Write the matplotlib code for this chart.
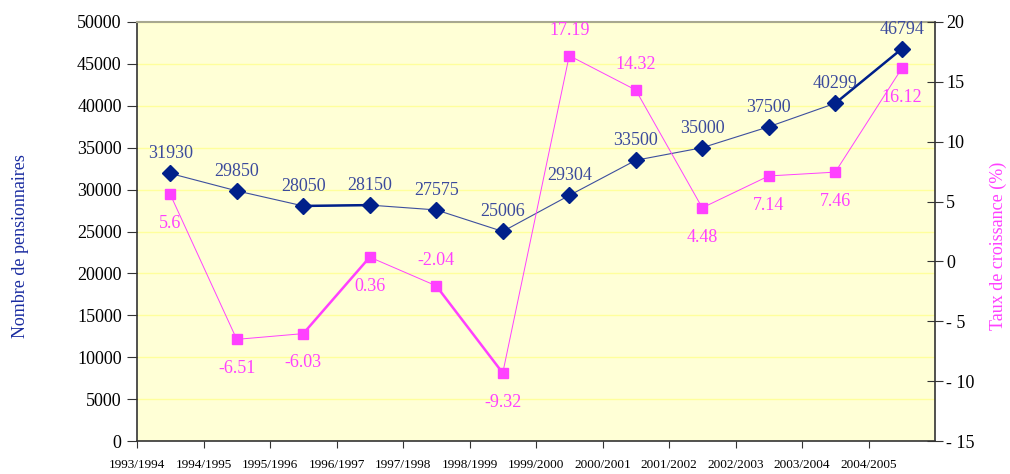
import numpy as np
import matplotlib
matplotlib.use("Agg")
import matplotlib.pyplot as plt

years = ["1993/1994", "1994/1995", "1995/1996", "1996/1997", "1997/1998", "1998/1999",
         "1999/2000", "2000/2001", "2001/2002", "2002/2003", "2003/2004", "2004/2005"]
pensionnaires = [31930, 29850, 28050, 28150, 27575, 25006,
                 29304, 33500, 35000, 37500, 40299, 46794]
croissance = [5.6, -6.51, -6.03, 0.36, -2.04, -9.32,
              17.19, 14.32, 4.48, 7.14, 7.46, 16.12]

# which pink labels sit above the marker (the rest go below)
pink_above = [4, 6, 7]
# segments that Excel drew heavier
blue_thick = [2, 10]
pink_thick = [2, 4]

blue = "#00208a"
blue_line = "#3d4f9e"
blue_txt = "#3b4a9c"
pink = "#ff40ff"

plt.rcParams['font.family'] = ['Liberation Serif', 'DejaVu Serif']

fig = plt.figure(figsize=(10.1, 4.74), dpi=100)
ax = fig.add_axes([137/1010, 33/474, (935-137)/1010, (441-22)/474])
ax.set_facecolor("#ffffd6")
x = np.arange(len(pensionnaires)) + 0.5

ax.set_xlim(0, 12)
ax.set_ylim(0, 50000)
ax.set_yticks(np.arange(0, 50001, 5000))
ax.yaxis.grid(True, color="#ffff9c", lw=1)
ax.set_axisbelow(True)
ax.set_xticks(np.arange(0, 12))
ax.set_xticklabels(years, fontsize=9.5)
ax.tick_params(axis='x', direction='out', length=5, pad=8, color="#333333")
ax.tick_params(axis='y', direction='out', length=7, labelsize=13, pad=4, color="#333333")
for s in ['left', 'bottom']:
    ax.spines[s].set_color("#333333")
    ax.spines[s].set_linewidth(1.2)
ax.spines['top'].set_color("#a8a890")
ax.spines['top'].set_linewidth(1.5)
ax.spines['right'].set_visible(False)

ax.plot(x, pensionnaires, color=blue_line, lw=0.8, zorder=3)
for i in blue_thick:
    ax.plot(x[i:i+2], pensionnaires[i:i+2], color=blue, lw=1.8, zorder=3)
ax.plot(x, pensionnaires, ls='none', marker='D', ms=8, color=blue, zorder=4)
for xi, v in zip(x, pensionnaires):
    ax.annotate(str(v), (xi, v), xytext=(0, 8), textcoords='offset points',
                ha='center', va='bottom', fontsize=13, color=blue_txt)

ax.set_ylabel("Nombre de pensionnaires", fontsize=13, color="#1a2ca0")
ax.yaxis.set_label_coords(-0.135, 0.465)

ax2 = ax.twinx()
ax2.set_ylim(-15, 20)
ax2.set_yticks(np.arange(-15, 21, 5))
ax2.set_yticklabels([("- %d" % -t) if t < 0 else str(t) for t in range(-15, 21, 5)])
ax2.tick_params(axis='y', direction='inout', length=12, labelsize=13, pad=2, color="#333333")
for s in ['left', 'top', 'bottom']:
    ax2.spines[s].set_visible(False)
ax2.spines['right'].set_color("#333333")
ax2.spines['right'].set_linewidth(1.2)

ax2.plot(x, croissance, color=pink, lw=0.7, zorder=3)
for i in pink_thick:
    ax2.plot(x[i:i+2], croissance[i:i+2], color=pink, lw=1.8, zorder=3)
ax2.plot(x, croissance, ls='none', marker='s', ms=7.5, color=pink, zorder=4)
for i, (xi, v) in enumerate(zip(x, croissance)):
    if i in pink_above:
        ax2.annotate(f"{v:g}", (xi, v), xytext=(0, 12), textcoords='offset points',
                     ha='center', va='bottom', fontsize=13, color=pink)
    else:
        ax2.annotate(f"{v:g}", (xi, v), xytext=(0, -15), textcoords='offset points',
                     ha='center', va='top', fontsize=13, color=pink)

ax2.set_ylabel("Taux de croissance (%)", fontsize=13, color=pink)
ax2.yaxis.set_label_coords(1.068, 0.465)

fig.savefig("out.png", dpi=100)
